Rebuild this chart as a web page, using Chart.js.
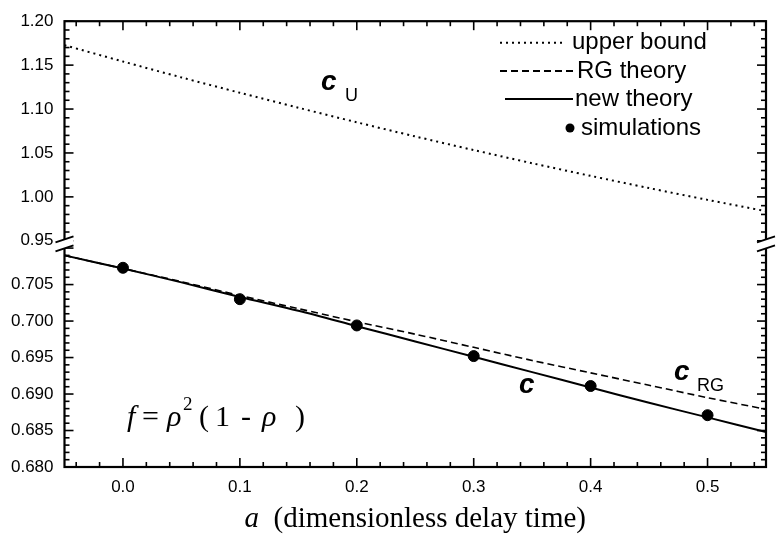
<!DOCTYPE html>
<html>
<head>
<meta charset="utf-8">
<script src="https://cdn.jsdelivr.net/npm/chart.js@4/dist/chart.umd.min.js"></script>
<style>
html,body{margin:0;padding:0;background:#fff;}
#wrap{width:777px;height:542px;position:relative;}
</style>
</head>
<body>
<div id="wrap"><canvas id="c" width="777" height="542"></canvas></div>
<script>
// ---- data ----
const aGrid = [-0.05, 0.00, 0.05, 0.10, 0.15, 0.20, 0.25, 0.30, 0.35, 0.40, 0.45, 0.50, 0.55];
const upperBound = [1.1727, 1.1541, 1.1360, 1.1185, 1.1015, 1.0849, 1.0688, 1.0533, 1.0383, 1.0239, 1.0100, 0.9966, 0.9837];
const rgTheory  = [0.7090, 0.7072, 0.7054, 0.7035, 0.7017, 0.6999, 0.6982, 0.6964, 0.6946, 0.6929, 0.6912, 0.6895, 0.6879];
const newTheory = [0.7090, 0.7072, 0.7053, 0.7033, 0.7014, 0.6993, 0.6972, 0.6951, 0.6930, 0.6909, 0.6888, 0.6868, 0.6848];
const simA = [0.0, 0.1, 0.2, 0.3, 0.4, 0.5];
const simC = [0.7073, 0.7030, 0.6994, 0.6952, 0.6911, 0.6871];
const xTicks = [0.0, 0.1, 0.2, 0.3, 0.4, 0.5];
const yUpperTicks = [0.95, 1.00, 1.05, 1.10, 1.15, 1.20];
const yLowerTicks = [0.680, 0.685, 0.690, 0.695, 0.700, 0.705];
const legendLabels = ['upper bound', 'RG theory', 'new theory', 'simulations'];

const pts = (xs, ys) => xs.map((x, i) => ({x: x, y: ys[i]}));
const SANS = '"Liberation Sans", Arial, Helvetica, sans-serif';
const SERIF = '"Liberation Serif", "Times New Roman", serif';

const decor = {
  id: 'decor',
  afterDraw(chart) {
    const ctx = chart.ctx, ca = chart.chartArea;
    const sx = chart.scales.x, sU = chart.scales.yU, sL = chart.scales.yL;
    ctx.save();
    ctx.strokeStyle = '#000';
    ctx.fillStyle = '#000';
    const line = (x1, y1, x2, y2) => { ctx.beginPath(); ctx.moveTo(x1, y1); ctx.lineTo(x2, y2); ctx.stroke(); };
    // inward ticks
    ctx.lineWidth = 1.6;
    for (let i = -2; i <= 27; i++) {
      const v = i * 0.02;
      const L = (i % 5 === 0) ? 9 : 5;
      const px = sx.getPixelForValue(v);
      line(px, ca.bottom, px, ca.bottom - L);
      line(px, ca.top, px, ca.top + L);
    }
    for (let i = 95; i <= 120; i++) {
      const py = sU.getPixelForValue(i / 100);
      const L = (i % 5 === 0) ? 9 : 5;
      line(ca.left, py, ca.left + L, py);
      line(ca.right, py, ca.right - L, py);
    }
    for (let i = 680; i <= 710; i++) {
      const py = sL.getPixelForValue(i / 1000);
      const L = (i % 5 === 0) ? 9 : 5;
      line(ca.left, py, ca.left + L, py);
      line(ca.right, py, ca.right - L, py);
    }
    // frame
    ctx.lineWidth = 2.2;
    ctx.strokeRect(ca.left, ca.top, ca.right - ca.left, ca.bottom - ca.top);
    // axis break marks
    const c = sU.bottom + 3;
    [ca.left, ca.right].forEach(X => {
      ctx.fillStyle = '#fff';
      ctx.beginPath();
      ctx.moveTo(X - 9, c - 1.5); ctx.lineTo(X + 9, c - 7.5);
      ctx.lineTo(X + 9, c + 1.5); ctx.lineTo(X - 9, c + 7.5);
      ctx.closePath(); ctx.fill();
      ctx.lineWidth = 1.8;
      line(X - 9, c - 1.5, X + 9, c - 7.5);
      line(X - 9, c + 7.5, X + 9, c + 1.5);
    });
    ctx.fillStyle = '#000';
    // legend
    const rows = [42.7, 71, 99, 128];
    ctx.lineWidth = 2;
    ctx.setLineDash([2, 4]); line(500, rows[0], 566, rows[0]);
    ctx.setLineDash([7, 4]); line(500, rows[1], 575, rows[1]);
    ctx.setLineDash([]); line(505, rows[2], 573, rows[2]);
    ctx.beginPath(); ctx.arc(570, rows[3], 4.5, 0, Math.PI * 2); ctx.fill();
    ctx.font = '24px ' + SANS;
    ctx.textBaseline = 'middle';
    ctx.textAlign = 'left';
    ctx.fillText(legendLabels[0], 572, rows[0]);
    ctx.fillText(legendLabels[1], 577, rows[1]);
    ctx.fillText(legendLabels[2], 575, rows[2]);
    ctx.fillText(legendLabels[3], 581, rows[3]);
    // curve labels
    ctx.textBaseline = 'alphabetic';
    const cLabel = (x, y, sub, sx2, sy2) => {
      ctx.font = 'italic bold 28px ' + SANS;
      ctx.fillText('c', x, y);
      if (sub) { ctx.font = '18px ' + SANS; ctx.fillText(sub, sx2, sy2); }
    };
    cLabel(321, 90, 'U', 345, 101);
    cLabel(674, 380, 'RG', 697, 391);
    cLabel(519, 393, '', 0, 0);
    // formula
    const fy = 426;
    const put = (t, font, x, y) => { ctx.font = font; ctx.fillText(t, x, y); };
    put('f', 'italic 30px ' + SERIF, 127, fy);
    put('=', '30px ' + SERIF, 142, fy);
    put('\u03C1', 'italic 30px ' + SERIF, 167, fy);
    put('2', '19px ' + SERIF, 183, fy - 16);
    put('(', '30px ' + SERIF, 199, fy);
    put('1', '30px ' + SERIF, 215, fy);
    put('-', '30px ' + SERIF, 241, fy);
    put('\u03C1', 'italic 30px ' + SERIF, 262, fy);
    put(')', '30px ' + SERIF, 295, fy);
    // x axis title
    ctx.font = 'italic 29px ' + SERIF;
    const t1 = 'a', t2 = '  (dimensionless delay time)';
    const w1 = ctx.measureText(t1).width;
    ctx.font = '29px ' + SERIF;
    const w2 = ctx.measureText(t2).width;
    let tx = (ca.left + ca.right) / 2 - (w1 + w2) / 2;
    ctx.font = 'italic 29px ' + SERIF; ctx.fillText(t1, tx, 527);
    ctx.font = '29px ' + SERIF; ctx.fillText(t2, tx + w1, 527);
    ctx.restore();
  }
};

const tickFont = {family: SANS, size: 17};
new Chart(document.getElementById('c'), {
  type: 'line',
  data: {
    datasets: [
      {label: legendLabels[0], data: pts(aGrid, upperBound), yAxisID: 'yU', borderColor: '#000', borderWidth: 2, borderDash: [2, 4], pointRadius: 0, tension: 0.3, fill: false},
      {label: legendLabels[1], data: pts(aGrid, rgTheory), yAxisID: 'yL', borderColor: '#000', borderWidth: 1.6, borderDash: [7, 4], pointRadius: 0, tension: 0.3, fill: false},
      {label: legendLabels[2], data: pts(aGrid, newTheory), yAxisID: 'yL', borderColor: '#000', borderWidth: 2, pointRadius: 0, tension: 0.3, fill: false},
      {label: legendLabels[3], type: 'scatter', data: pts(simA, simC), yAxisID: 'yL', backgroundColor: '#000', borderColor: '#000', pointRadius: 5.5, showLine: false}
    ]
  },
  options: {
    responsive: false,
    animation: false,
    layout: {padding: {left: 0, right: 11, top: 15, bottom: 0}},
    plugins: {legend: {display: false}, tooltip: {enabled: false}},
    scales: {
      x: {
        type: 'linear', min: -0.05, max: 0.55,
        grid: {display: false, drawTicks: false}, border: {display: false},
        afterBuildTicks: s => { s.ticks = xTicks.map(v => ({value: v})); },
        afterFit: s => { s.height = 75; },
        ticks: {color: '#000', font: tickFont, padding: 10, callback: v => Number(v).toFixed(1)}
      },
      yL: {
        type: 'linear', position: 'left', stack: 'v', stackWeight: 229.2, min: 0.680, max: 0.711,
        grid: {display: false, drawTicks: false}, border: {display: false},
        afterBuildTicks: s => { s.ticks = yLowerTicks.map(v => ({value: v})); },
        afterFit: s => { s.width = 64.5; },
        ticks: {color: '#000', font: tickFont, padding: 11, callback: v => Number(v).toFixed(3)}
      },
      yU: {
        type: 'linear', position: 'left', stack: 'v', stackWeight: 222.5, min: 0.95, max: 1.20,
        grid: {display: false, drawTicks: false}, border: {display: false},
        afterBuildTicks: s => { s.ticks = yUpperTicks.map(v => ({value: v})); },
        afterFit: s => { s.width = 64.5; },
        ticks: {color: '#000', font: tickFont, padding: 11, callback: v => Number(v).toFixed(2)}
      }
    }
  },
  plugins: [decor]
});
</script>
</body>
</html>
